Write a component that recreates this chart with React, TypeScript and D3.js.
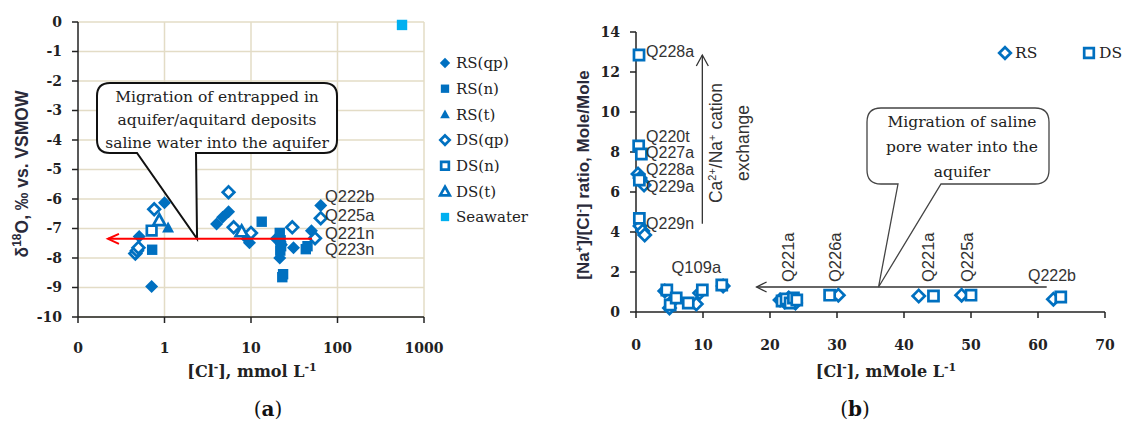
import React from "react";
import * as d3 from "d3";

// (a) d18O vs chloride, [Cl mmol/L, d18O permil]
const rsQp = [[0.51, -7.27], [0.71, -8.97], [1.0, -6.13], [4.0, -6.85], [4.7, -6.62], [5.5, -6.43], [9.0, -7.35], [9.6, -7.48], [19.5, -7.35], [21.5, -8.0], [22.5, -7.55], [31, -7.65], [50, -7.08], [64, -6.22]];
const rsN = [[0.72, -7.72], [13.3, -6.77], [21.5, -7.15], [22, -7.4], [22.3, -7.6], [21.8, -7.75], [23.5, -8.55], [23, -8.65], [43, -7.7], [45, -7.6]];
const rsT = [[1.1, -6.97]];
const dsQp = [[0.46, -7.85], [0.48, -7.75], [0.5, -7.65], [0.76, -6.35], [5.5, -5.77], [6.3, -6.96], [10, -7.15], [30, -6.96], [55, -7.33], [64, -6.65]];
const dsN = [[0.71, -7.07]];
const dsT = [[0.87, -6.72], [7.8, -7.1]];
const seawater = [[557, -0.1]];
const leftLabels = [["Q222b", -5.9], ["Q225a", -6.54], ["Q221n", -7.15], ["Q223n", -7.69]];
const leftXTicks = [0.1, 1, 10, 100, 1000];
const leftYTicks = d3.range(-10, 1);

// (b) Na/Cl ratio vs chloride
const rsRatio = [[0.3, 6.9], [0.6, 6.7], [0.9, 6.5], [1.2, 6.35], [0.6, 4.3], [1.0, 4.05], [1.3, 3.85], [4.3, 1.05], [5.0, 0.2], [5.6, 0.6], [9.0, 0.4], [9.5, 0.95], [13.0, 1.3], [21.5, 0.6], [22.2, 0.5], [22.8, 0.7], [23.3, 0.55], [23.8, 0.45], [30.2, 0.84], [42.2, 0.8], [48.6, 0.84], [62.3, 0.64]];
const dsRatio = [[0.45, 12.85], [0.4, 8.3], [0.8, 7.9], [0.5, 6.6], [0.5, 4.68], [4.6, 1.1], [5.1, 0.35], [6.0, 0.7], [7.8, 0.45], [9.9, 1.1], [12.8, 1.35], [21.8, 0.55], [22.4, 0.65], [23, 0.45], [23.5, 0.7], [24, 0.6], [28.9, 0.84], [44.4, 0.8], [50, 0.84], [63.4, 0.75]];
const rightLabels = [["Q228a", 1.5, 13.03], ["Q220t", 1.5, 8.8], ["Q227a", 1.5, 7.96], ["Q228a", 1.5, 7.12], ["Q229a", 1.5, 6.3], ["Q229n", 1.5, 4.44], ["Q222b", 58.5, 1.84]];
const rightVLabels = [["Q221a", 22.7], ["Q226a", 29.7], ["Q221a", 43.6], ["Q225a", 49.4]];
const rightXTicks = d3.range(0, 71, 10);
const rightYTicks = d3.range(0, 15, 2);

const BLUE = "#0070c0";
const SEA = "#00b0f0";
const GRID = "#e3dcc6";
const serif = "'DejaVu Serif', serif";
const sans = "'Liberation Sans', Arial, sans-serif";

const Marker = ({ kind, x, y, s = 1, color = BLUE }) => {
  const filled = kind.startsWith("f");
  const shape = kind.slice(1);
  let d = "";
  if (shape === "d") {
    const r = (filled ? 6.5 : 5.8) * s;
    d = `M${x},${y - r}L${x + r},${y}L${x},${y + r}L${x - r},${y}Z`;
  } else if (shape === "s") {
    const r = (filled ? 5.2 : 4.8) * s;
    d = `M${x - r},${y - r}H${x + r}V${y + r}H${x - r}Z`;
  } else {
    const r = 6 * s;
    d = `M${x},${y - r}L${x + r},${y + r * 0.8}H${x - r}Z`;
  }
  return (
    <path
      d={d}
      fill={filled ? color : "#fff"}
      stroke={color}
      strokeWidth={filled ? 0 : 2.7}
    />
  );
};

const callout = (x0, y0, x1, y1, r, t1, t2, tx, ty) =>
  `M${x0 + r},${y0}H${x1 - r}Q${x1},${y0} ${x1},${y0 + r}V${y1 - r}Q${x1},${y1} ${x1 - r},${y1}` +
  `H${t2}L${tx},${ty}L${t1},${y1}H${x0 + r}Q${x0},${y1} ${x0},${y1 - r}V${y0 + r}Q${x0},${y0} ${x0 + r},${y0}Z`;

export default function App() {
  const xA = d3.scaleLog().domain([0.1, 1000]).range([78, 424]);
  const yA = d3.scaleLinear().domain([-10, 0]).range([317, 22]);
  const xB = d3.scaleLinear().domain([0, 70]).range([636, 1105]);
  const yB = d3.scaleLinear().domain([0, 14]).range([312, 32]);

  const leftSeries = [
    ["fd", rsQp, "RS(qp)"],
    ["fs", rsN, "RS(n)"],
    ["ft", rsT, "RS(t)"],
    ["od", dsQp, "DS(qp)"],
    ["os", dsN, "DS(n)"],
    ["ot", dsT, "DS(t)"],
  ];

  const arrowY = yA(-7.35);
  const tipA = [xA(2.38), arrowY];
  const tipB = [xB(36.2), yB(1.25)];

  return (
    <svg
      width={1126}
      height={423}
      style={{ position: "absolute", left: 0, top: 0, background: "#fff" }}
    >
      {/* ---------- panel (a) ---------- */}
      {leftYTicks.map((t) => (
        <line key={"gy" + t} x1={78} x2={424} y1={yA(t)} y2={yA(t)} stroke={GRID} strokeWidth={1.5} />
      ))}
      {leftXTicks.slice(1).map((t) => (
        <line key={"gx" + t} x1={xA(t)} x2={xA(t)} y1={22} y2={317} stroke={GRID} strokeWidth={1.5} />
      ))}
      <line x1={78} x2={78} y1={22} y2={317} stroke="#222" strokeWidth={1.5} />
      <line x1={78} x2={424} y1={317} y2={317} stroke="#222" strokeWidth={1.5} />
      {leftYTicks.map((t) => (
        <g key={"ty" + t}>
          <line x1={72} x2={78} y1={yA(t)} y2={yA(t)} stroke="#222" strokeWidth={1.5} />
          <text x={62} y={yA(t)} dy="0.35em" textAnchor="end" fontFamily={serif} fontWeight="bold" fontSize={14} fill="#222">
            {t}
          </text>
        </g>
      ))}
      {leftXTicks.map((t) => (
        <g key={"tx" + t}>
          <line x1={xA(t)} x2={xA(t)} y1={317} y2={323} stroke="#222" strokeWidth={1.5} />
          <text x={xA(t)} y={353} textAnchor="middle" fontFamily={serif} fontWeight="bold" fontSize={14} fill="#222">
            {t < 1 ? 0 : t}
          </text>
        </g>
      ))}

      {/* callout (a) */}
      <path d={callout(97, 83, 337, 153, 13, 137, 196, tipA[0], tipA[1])} fill="#fff" stroke="#111" strokeWidth={2} />
      {["Migration of entrapped in", "aquifer/aquitard deposits", "saline water into the aquifer"].map((s, i) => (
        <text key={s} x={217} y={102 + i * 23} textAnchor="middle" fontFamily={serif} fontSize={15.5} fill="#222">
          {s}
        </text>
      ))}

      {leftSeries.map(([k, data]) =>
        data.map((p, i) => <Marker key={k + i} kind={k} x={xA(p[0])} y={yA(p[1])} />)
      )}
      {seawater.map((p, i) => (
        <Marker key={"sw" + i} kind="fs" x={xA(p[0])} y={yA(p[1])} color={SEA} />
      ))}

      {/* red arrow */}
      <line x1={xA(50.7)} x2={xA(0.222)} y1={arrowY} y2={arrowY} stroke="#f00" strokeWidth={2} />
      <path
        d={`M${xA(0.222) + 11},${arrowY - 5}L${xA(0.222)},${arrowY}L${xA(0.222) + 11},${arrowY + 5}`}
        fill="none"
        stroke="#f00"
        strokeWidth={2}
      />

      {leftLabels.map(([s, v]) => (
        <text key={s} x={xA(71.6)} y={yA(v)} dy="0.35em" fontFamily={sans} fontSize={16.5} fill="#333">
          {s}
        </text>
      ))}

      {/* legend (a) */}
      {leftSeries.map(([k, , name], i) => (
        <g key={name}>
          <Marker kind={k} x={445} y={63 + i * 25.7} s={0.8} />
          <text x={456} y={63 + i * 25.7} dy="0.35em" fontFamily={serif} fontSize={15} fill="#222">
            {name}
          </text>
        </g>
      ))}
      <Marker kind="fs" x={445} y={217} s={0.8} color={SEA} />
      <text x={456} y={217} dy="0.35em" fontFamily={serif} fontSize={15} fill="#222">
        Seawater
      </text>

      <text transform="translate(28,174) rotate(-90)" textAnchor="middle" fontFamily={sans} fontWeight="bold" fontSize={17.5} fill="#2a2a3a">
        δ<tspan dy={-7} fontSize={12}>18</tspan>
        <tspan dy={7}>O, ‰ vs. VSMOW</tspan>
      </text>
      <text x={252} y={377} textAnchor="middle" fontFamily={serif} fontWeight="bold" fontSize={16} fill="#222">
        [Cl<tspan dy={-6} fontSize={11}>-</tspan>
        <tspan dy={6}>], mmol L</tspan>
        <tspan dy={-6} fontSize={11}>-1</tspan>
      </text>
      <text x={268} y={416} textAnchor="middle" fontFamily={serif} fontSize={20} fill="#111">
        (<tspan fontWeight="bold">a</tspan>)
      </text>

      {/* ---------- panel (b) ---------- */}
      <line x1={636} x2={636} y1={32} y2={312} stroke="#222" strokeWidth={1.5} />
      <line x1={636} x2={1105} y1={312} y2={312} stroke="#222" strokeWidth={1.5} />
      {rightYTicks.map((t) => (
        <g key={"by" + t}>
          <line x1={630} x2={636} y1={yB(t)} y2={yB(t)} stroke="#222" strokeWidth={1.5} />
          <text x={620} y={yB(t)} dy="0.35em" textAnchor="end" fontFamily={serif} fontWeight="bold" fontSize={14} fill="#222">
            {t}
          </text>
        </g>
      ))}
      {rightXTicks.map((t) => (
        <g key={"bx" + t}>
          <line x1={xB(t)} x2={xB(t)} y1={312} y2={318} stroke="#222" strokeWidth={1.5} />
          <text x={xB(t)} y={350} textAnchor="middle" fontFamily={serif} fontWeight="bold" fontSize={14} fill="#222">
            {t}
          </text>
        </g>
      ))}

      {/* vertical exchange arrow */}
      <line x1={xB(9.9)} x2={xB(9.9)} y1={yB(4.41)} y2={yB(12.85)} stroke="#333" strokeWidth={1.3} />
      <path
        d={`M${xB(9.9) - 6},${yB(12.85) + 11}L${xB(9.9)},${yB(12.85)}L${xB(9.9) + 6},${yB(12.85) + 11}`}
        fill="none"
        stroke="#333"
        strokeWidth={1.3}
      />
      <text transform="translate(722,143) rotate(-90)" textAnchor="middle" fontFamily={sans} fontSize={17.5} fill="#333">
        Ca<tspan dy={-6} fontSize={11}>2+</tspan>
        <tspan dy={6}>/Na</tspan>
        <tspan dy={-6} fontSize={11}>+</tspan>
        <tspan dy={6}> cation</tspan>
      </text>
      <text transform="translate(749,143) rotate(-90)" textAnchor="middle" fontFamily={sans} fontSize={17.5} fill="#333">
        exchange
      </text>

      {/* horizontal arrow */}
      <line x1={xB(61.3)} x2={xB(18)} y1={tipB[1]} y2={tipB[1]} stroke="#333" strokeWidth={1.3} />
      <path
        d={`M${xB(18) + 10},${tipB[1] - 5}L${xB(18)},${tipB[1]}L${xB(18) + 10},${tipB[1] + 5}`}
        fill="none"
        stroke="#333"
        strokeWidth={1.3}
      />
      <path d={callout(867, 108, 1049, 184, 14, 898, 941, tipB[0], tipB[1])} fill="#fff" stroke="#444" strokeWidth={1.3} />
      {["Migration of saline", "pore water into the", "aquifer"].map((s, i) => (
        <text key={s} x={962} y={127 + i * 25} textAnchor="middle" fontFamily={serif} fontSize={15.5} fill="#222">
          {s}
        </text>
      ))}

      {rsRatio.map((p, i) => (
        <Marker key={"rr" + i} kind="od" x={xB(p[0])} y={yB(p[1])} s={1.05} />
      ))}
      {dsRatio.map((p, i) => (
        <Marker key={"dr" + i} kind="os" x={xB(p[0])} y={yB(p[1])} s={1.05} />
      ))}

      {rightLabels.map(([s, x, y], i) => (
        <text key={"rl" + i} x={xB(x)} y={yB(y)} dy="0.35em" fontFamily={sans} fontSize={16} fill="#333">
          {s}
        </text>
      ))}
      <text x={xB(9.0)} y={yB(2.22)} dy="0.35em" textAnchor="middle" fontFamily={sans} fontSize={16.5} fill="#333">
        Q109a
      </text>
      {rightVLabels.map(([s, x], i) => (
        <text
          key={"rv" + i}
          transform={`translate(${xB(x) + 6},${yB(1.5)}) rotate(-90)`}
          fontFamily={sans}
          fontSize={16.5}
          fill="#333"
        >
          {s}
        </text>
      ))}

      {/* legend (b) */}
      <Marker kind="od" x={1005} y={53} />
      <text x={1015} y={53} dy="0.35em" fontFamily={serif} fontSize={15.5} fill="#222">RS</text>
      <Marker kind="os" x={1089} y={53} />
      <text x={1099} y={53} dy="0.35em" fontFamily={serif} fontSize={15.5} fill="#222">DS</text>

      <text transform="translate(589,175) rotate(-90)" textAnchor="middle" fontFamily={sans} fontWeight="bold" fontSize={17} fill="#2a2a3a">
        [Na<tspan dy={-6} fontSize={11}>+</tspan>
        <tspan dy={6}>]/[Cl</tspan>
        <tspan dy={-6} fontSize={11}>-</tspan>
        <tspan dy={6}>] ratio, Mole/Mole</tspan>
      </text>
      <text x={886} y={377} textAnchor="middle" fontFamily={serif} fontWeight="bold" fontSize={16} fill="#222">
        [Cl<tspan dy={-6} fontSize={11}>-</tspan>
        <tspan dy={6}>], mMole L</tspan>
        <tspan dy={-6} fontSize={11}>-1</tspan>
      </text>
      <text x={855} y={416} textAnchor="middle" fontFamily={serif} fontSize={20} fill="#111">
        (<tspan fontWeight="bold">b</tspan>)
      </text>
    </svg>
  );
}
